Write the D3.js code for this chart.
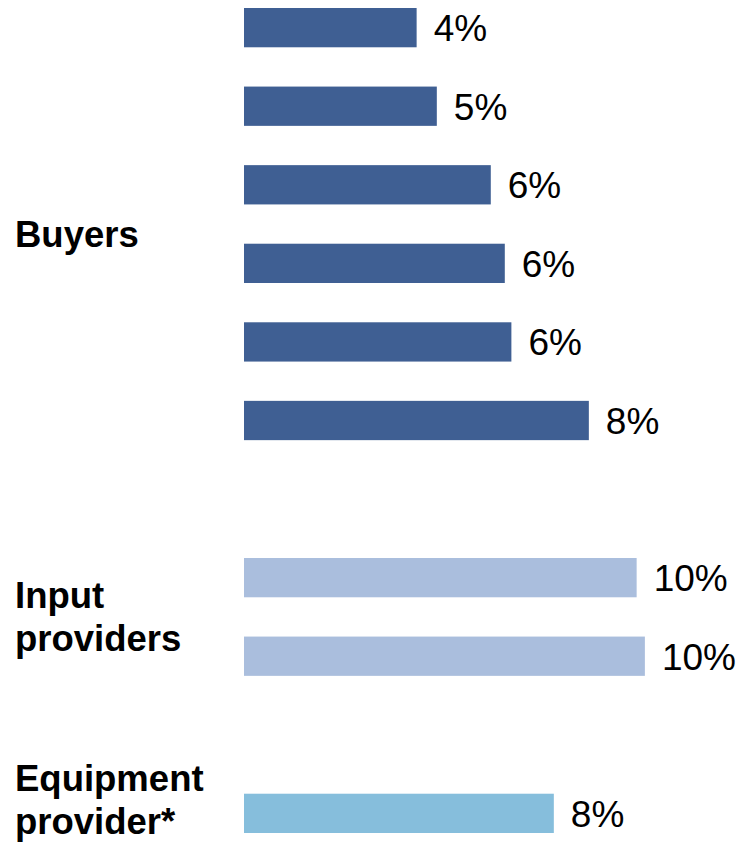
<!DOCTYPE html>
<html>
<head>
<meta charset="utf-8">
<script src="https://cdn.jsdelivr.net/npm/d3@7"></script>
<style>
  body { margin: 0; background: #fff; }
  text { font-family: "Liberation Sans", Arial, sans-serif; fill: #000; }
</style>
</head>
<body>
<svg id="chart" width="741" height="843"></svg>
<script>
// shares (labels are the rounded percentages)
let buyerValues = [4.19, 4.68, 5.99, 6.33, 6.49, 8.37];
let inputValues = [9.53, 9.73];
let equipmentValues = [7.52];

let groupNames = ["Buyers", "Input\nproviders", "Equipment\nprovider*"];
let groupColors = ["#3f5f93", "#aabedd", "#86bedc"];

let width = 741, height = 843;
let svg = d3.select("#chart");

// one row per bar, with an empty row between groups
let rows = [];
let groups = [buyerValues, inputValues, equipmentValues];
groups.forEach(function (vals, g) {
    if (g > 0) rows.push({ key: "gap" + g, spacer: true });
    vals.forEach(function (v, i) {
        rows.push({ key: "g" + g + "_" + i, group: g, value: v });
    });
});

let yScale = d3.scaleBand()
    .domain(rows.map(d => d.key))
    .range([8, 833])
    .paddingInner(0.5)
    .paddingOuter(0);

let xScale = d3.scaleLinear()
    .domain([0, 10])
    .range([244, 656]);

let bars = rows.filter(d => !d.spacer);

svg.selectAll("rect.bar")
    .data(bars)
    .enter()
    .append("rect")
    .attr("class", "bar")
    .attr("x", xScale(0))
    .attr("y", d => yScale(d.key))
    .attr("width", d => xScale(d.value) - xScale(0))
    .attr("height", yScale.bandwidth())
    .attr("fill", d => groupColors[d.group]);

svg.selectAll("text.val")
    .data(bars)
    .enter()
    .append("text")
    .attr("class", "val")
    .attr("x", d => xScale(d.value) + 17)
    .attr("y", d => yScale(d.key) + yScale.bandwidth() / 2)
    .attr("dy", "0.36em")
    .style("font-size", "37px")
    .text(d => Math.round(d.value) + "%");

// group labels, centred on their bars
let lineGap = 43;
groupNames.forEach(function (name, g) {
    let gb = bars.filter(d => d.group === g);
    let top = yScale(gb[0].key);
    let bottom = yScale(gb[gb.length - 1].key) + yScale.bandwidth();
    let mid = (top + bottom) / 2;
    let lines = name.split("\n");
    let first = mid + 13 - (lines.length - 1) * lineGap / 2;
    if (lines.length === 1) first += 10;
    let last = first + (lines.length - 1) * lineGap;
    if (last > height - 9) first -= last - (height - 9);
    let t = svg.append("text")
        .style("font-size", "36.5px")
        .style("font-weight", "bold");
    lines.forEach(function (ln, i) {
        t.append("tspan")
            .attr("x", 15)
            .attr("y", first + i * lineGap)
            .text(ln);
    });
});
</script>
</body>
</html>
